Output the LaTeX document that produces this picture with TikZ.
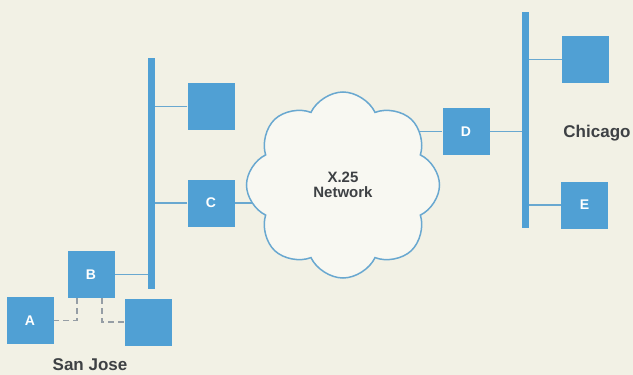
\documentclass[tikz,border=0pt]{standalone}
\usepackage{fontspec}
\setmainfont{Liberation Sans}
\usepackage{tikz}
\usetikzlibrary{shapes.symbols}
\usetikzlibrary{backgrounds}
\definecolor{paper}{RGB}{242,241,229}
\definecolor{boxblue}{RGB}{80,160,212}
\definecolor{lineblue}{RGB}{105,168,208}
\definecolor{dashgray}{RGB}{150,158,165}
\definecolor{labelgray}{RGB}{62,65,68}
\tikzset{site/.style = {rectangle, fill=boxblue, minimum width=47pt, minimum height=47pt, inner sep=0pt, text=white, font=\fontsize{14}{14}\selectfont\bfseries}}
\tikzset{bus/.style = {rectangle, fill=boxblue, minimum width=7pt, inner sep=0pt}}
\tikzset{link/.style = {-, draw=lineblue, line width=1.8pt}}
\tikzset{tail/.style = {-, draw=dashgray, line width=1.3pt, dash pattern=on 6pt off 4pt}}
\tikzset{city/.style = {text=labelgray, font=\fontsize{17}{17}\selectfont\bfseries, inner sep=0pt}}

\begin{document}
\begin{tikzpicture}[x=1pt, y=-1pt]
\useasboundingbox (0,0) rectangle (633,375);
\node [bus, minimum height=231pt] (LB) at (151.5,173.5) {};
\node [site] (S1) at (211,106.5) {};
\node [site] (C) at (211,203) {C};
\node [site] (B) at (91,274.5) {B};
\node [site] (A) at (30,320.5) {A};
\node [site] (S2) at (148.5,322) {};
\node [cloud, cloud puffs=8, cloud puff arc=130, draw=lineblue, line width=1.5pt, fill=paper!50!white, minimum width=193pt, minimum height=186pt, inner sep=0pt, align=center, text=labelgray, font=\fontsize{15}{15}\selectfont\bfseries] (X) at (343,185) {X.25\\Network};
\node [bus, minimum height=216pt] (RB) at (525,120) {};
\node [site] (D) at (466,131.5) {D};
\node [site] (S3) at (585.5,59.5) {};
\node [site] (E) at (584.5,205) {E};
\node [city] (SJ) at (90,365) {San Jose};
\node [city] (CH) at (597,133) {Chicago};
\begin{scope}[on background layer]
\fill [paper] (0,0) rectangle (633,375);
\draw [link] (S1.west) to (S1.west -| LB.center);
\draw [link] (C.west) to (C.west -| LB.center);
\draw [link] (B.east) to (B.east -| LB.center);
\draw [link] (C.east) to (C.east -| X.center);
\draw [link] (D.west) to (D.west -| X.center);
\draw [link] (D.east) to (D.east -| RB.center);
\draw [link] (S3.west) to (S3.west -| RB.center);
\draw [link] (E.west) to (E.west -| RB.center);
\end{scope}
\draw [tail] ([xshift=-14pt]B.south) |- (A.east);
\draw [tail] ([xshift=11pt]B.south) |- (S2.west);
\end{tikzpicture}
\end{document}
